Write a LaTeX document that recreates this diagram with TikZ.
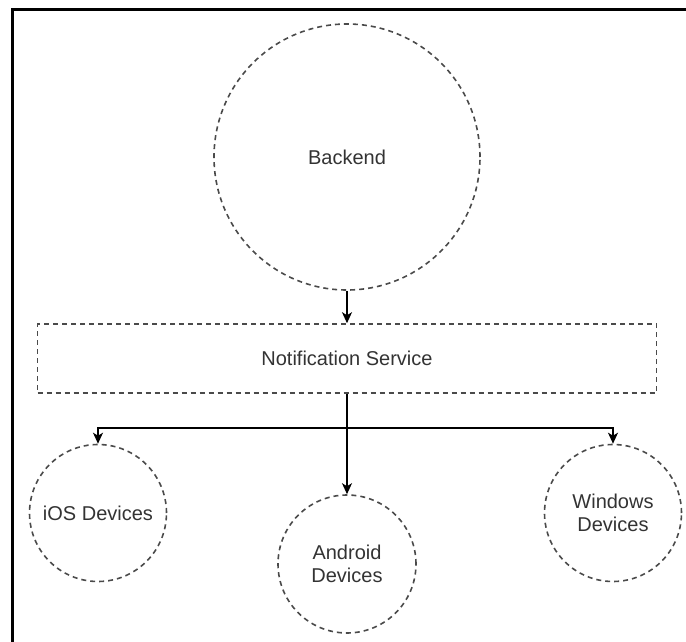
\documentclass[tikz,border=0pt]{standalone}
\usepackage{fontspec}
\setmainfont{Liberation Sans}
\usetikzlibrary{arrows.meta}
\definecolor{dashgray}{HTML}{4A4A4A}
\definecolor{txtgray}{HTML}{333333}
\tikzset{
  dashshape/.style={draw=dashgray, line width=1.6pt, dash pattern=on 5pt off 4pt,
    text=txtgray, font=\fontsize{20}{23}\selectfont, align=center, inner sep=0pt},
  roundbox/.style={dashshape, circle},
  rectbox/.style={dashshape, rectangle},
  arr/.style={draw=black, line width=1.5pt, -{Stealth[length=11pt,width=10pt,inset=3pt]}},
  frameline/.style={draw=black, line width=3pt}
}
\begin{document}
\begin{tikzpicture}[x=1pt,y=-1pt]
\useasboundingbox (0,0) rectangle (686,642);
\draw[frameline] (12,650) -- (12,10) -- (695,10);
\node[roundbox, minimum size=266pt] (backend) at (347,157) {Backend};
\node[rectbox, minimum width=619pt, minimum height=69pt] (notif) at (347,358.5) {Notification Service};
\node[roundbox, minimum size=137pt] (ios) at (98,513) {iOS Devices};
\node[roundbox, minimum size=138pt] (android) at (347,564) {Android\\Devices};
\node[roundbox, minimum size=137pt] (windows) at (613,513) {Windows\\Devices};
\coordinate (j) at (notif.south |- 0,428);
\draw[arr] (backend.south) -- (notif.north);
\draw[arr] (notif.south) -- (android.north);
\draw[arr] (j) -| (ios.north);
\draw[arr] (j) -| (windows.north);
\end{tikzpicture}
\end{document}
